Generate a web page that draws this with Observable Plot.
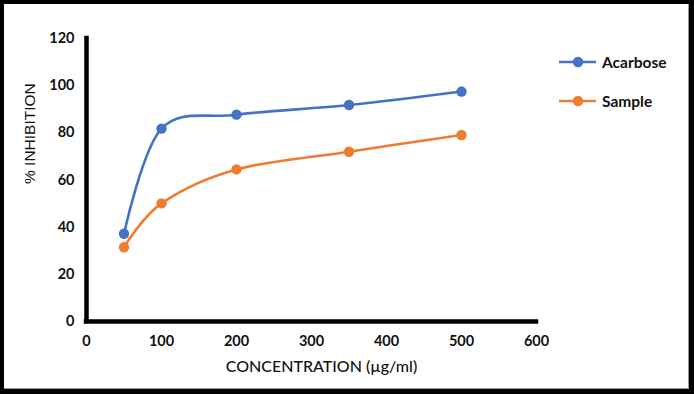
<!DOCTYPE html>
<html>
<head>
<meta charset="utf-8">
<script src="https://cdn.jsdelivr.net/npm/d3@7"></script>
<script src="https://cdn.jsdelivr.net/npm/@observablehq/plot@0.6"></script>
<style>
  html, body { margin: 0; padding: 0; background: #fff; }
  #frame { position: relative; width: 694px; height: 394px; background: #000; overflow: hidden; }
  #inner { position: absolute; left: 4px; top: 4px; width: 684px; height: 384px; background: #fff;
           border-right: 1px solid #9a9a9a; border-bottom: 1px solid #9a9a9a; }
  #chart { position: absolute; left: 0; top: 0; }
  #legend { position: absolute; left: 554px; top: 38px; font-family: Lato, "Open Sans", sans-serif; font-weight: 700; font-size: 15.5px; color: #111; }
  .item { display: flex; align-items: center; height: 39px; }
  .item svg { margin-right: 4px; }
</style>
</head>
<body>
<div id="frame"><div id="inner"><div id="chart"></div><div id="legend"></div></div></div>
<script>
const concentrations = [50, 100, 200, 350, 500];
const acarbose = [37.2, 81.8, 87.7, 91.8, 97.5];
const sample = [31.5, 50.1, 64.5, 72.0, 79.1];
const seriesNames = ["Acarbose", "Sample"];
const seriesColors = ["#4472C4", "#ED7D31"];
const xTicks = [0, 100, 200, 300, 400, 500, 600];
const yTicks = [0, 20, 40, 60, 80, 100, 120];

const rows = [];
concentrations.forEach((c, i) => {
  rows.push({series: seriesNames[0], x: c, y: acarbose[i]});
  rows.push({series: seriesNames[1], x: c, y: sample[i]});
});

const font = "Lato, 'Open Sans', sans-serif";
const plot = Plot.plot({
  width: 684,
  height: 384,
  marginLeft: 82,
  marginRight: 152,
  marginTop: 34,
  marginBottom: 67,
  style: {fontFamily: font, fontSize: "14px", fontWeight: 700, color: "#111", background: "transparent", overflow: "visible"},
  x: {domain: [0, 600], ticks: xTicks},
  y: {domain: [0, 120], ticks: yTicks},
  color: {domain: seriesNames, range: seriesColors},
  marks: [
    Plot.axisX({ticks: xTicks, tickSize: 0, tickPadding: 14, label: null, fontSize: 14.5, fontWeight: 700}),
    Plot.axisY({ticks: yTicks, tickSize: 0, tickPadding: 12, label: null, fontSize: 14.5, fontWeight: 700}),
    Plot.ruleX([0], {stroke: "#000", strokeWidth: 4.5, strokeLinecap: "square"}),
    Plot.ruleY([0], {stroke: "#000", strokeWidth: 4.5, strokeLinecap: "square"}),
    Plot.line(rows, {x: "x", y: "y", z: "series", stroke: "series", strokeWidth: 2.6, curve: "cardinal", tension: 0}),
    Plot.dot(rows, {x: "x", y: "y", fill: "series", r: 5.2}),
    Plot.text(["CONCENTRATION (µg/ml)"], {frameAnchor: "bottom", dy: 50, dx: 10, fontSize: 16, fontWeight: 500, fill: "#111", fontFamily: font}),
    Plot.text(["% INHIBITION"], {frameAnchor: "left", dx: -56, dy: 4, rotate: -90, fontSize: 15.5, fontWeight: 400, fill: "#111", fontFamily: "'Liberation Sans', Arial, sans-serif"})
  ]
});
document.getElementById("chart").appendChild(plot);

const legend = document.getElementById("legend");
seriesNames.forEach((name, i) => {
  const item = document.createElement("div");
  item.className = "item";
  const svg = d3.create("svg").attr("width", 40).attr("height", 14);
  svg.append("line").attr("x1", 1).attr("x2", 38).attr("y1", 7).attr("y2", 7)
     .attr("stroke", seriesColors[i]).attr("stroke-width", 2.6);
  svg.append("circle").attr("cx", 20).attr("cy", 7).attr("r", 5.2).attr("fill", seriesColors[i]);
  item.appendChild(svg.node());
  const span = document.createElement("span");
  span.textContent = name;
  item.appendChild(span);
  legend.appendChild(item);
});
</script>
</body>
</html>
